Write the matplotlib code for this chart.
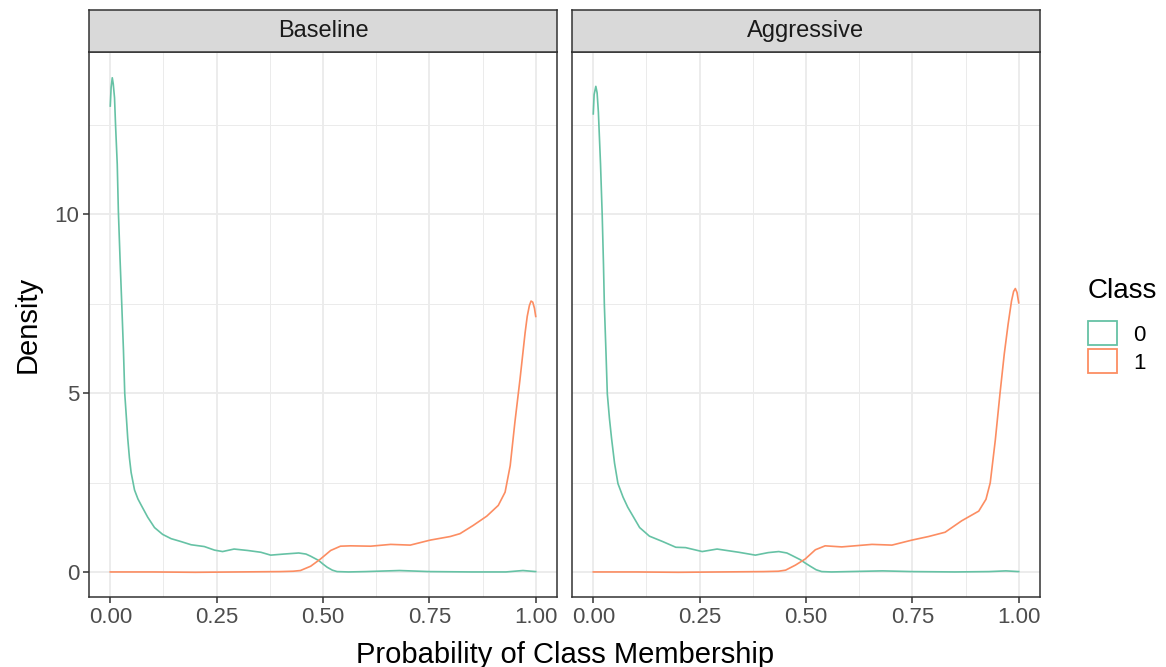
import matplotlib
matplotlib.use("Agg")
import matplotlib.pyplot as plt
from matplotlib.patches import Patch

plt.rcParams['font.family'] = ['Liberation Sans', 'DejaVu Sans']

panels = ["Baseline", "Aggressive"]
classes = ["0", "1"]
colors = ["#66C2A5", "#FC8D62"]

# baseline, class 0
base0_x = [0.000, 0.002, 0.0047, 0.007, 0.010, 0.0124, 0.0164, 0.019, 0.023, 0.027, 0.031,
           0.034, 0.038, 0.041, 0.045, 0.049, 0.057, 0.065, 0.073,
           0.088, 0.104, 0.123, 0.143, 0.166, 0.190, 0.221, 0.245, 0.264, 0.291, 0.323,
           0.354, 0.377, 0.408, 0.443, 0.460, 0.471, 0.490, 0.500, 0.510, 0.522, 0.533,
           0.560, 0.600, 0.680, 0.750, 0.850, 0.930, 0.970, 1.000]
base0_y = [13.03, 13.55, 13.82, 13.65, 13.26, 12.50, 11.40, 10.10, 8.75, 7.49, 6.20,
           5.00, 4.30, 3.75, 3.20, 2.79, 2.30, 2.05, 1.87,
           1.54, 1.25, 1.06, 0.94, 0.86, 0.77, 0.72, 0.62, 0.58, 0.65, 0.61,
           0.56, 0.48, 0.51, 0.54, 0.51, 0.45, 0.33, 0.23, 0.14, 0.06, 0.02,
           0.01, 0.02, 0.05, 0.02, 0.01, 0.01, 0.05, 0.02]
# baseline, class 1
base1_x = [0.000, 0.100, 0.200, 0.300, 0.400, 0.430, 0.447, 0.471, 0.494, 0.518, 0.541, 0.565,
           0.612, 0.659, 0.705, 0.752, 0.799, 0.822, 0.853, 0.885, 0.912, 0.928, 0.940,
           0.951, 0.963, 0.975, 0.980, 0.985, 0.989, 0.993, 0.997, 1.000]
base1_y = [0.01, 0.01, 0.00, 0.01, 0.02, 0.03, 0.05, 0.17, 0.37, 0.61, 0.73, 0.74,
           0.73, 0.78, 0.76, 0.90, 1.00, 1.08, 1.31, 1.57, 1.87, 2.24, 2.98,
           4.19, 5.39, 6.69, 7.15, 7.45, 7.58, 7.55, 7.38, 7.15]
# aggressive, class 0
aggr0_x = [0.000, 0.002, 0.006, 0.009, 0.012, 0.017, 0.021, 0.024, 0.026, 0.030, 0.033,
           0.038, 0.043, 0.050, 0.058, 0.070, 0.081, 0.109,
           0.132, 0.163, 0.194, 0.217, 0.256, 0.291, 0.342, 0.381, 0.411, 0.436, 0.455,
           0.467, 0.487, 0.498, 0.510, 0.524, 0.537, 0.560, 0.600, 0.680, 0.750, 0.850,
           0.930, 0.970, 1.000]
aggr0_y = [12.81, 13.35, 13.58, 13.40, 12.86, 11.42, 9.98, 8.60, 7.49, 6.10, 4.99,
           4.30, 3.74, 3.05, 2.48, 2.10, 1.82, 1.25,
           1.01, 0.86, 0.70, 0.69, 0.58, 0.65, 0.56, 0.48, 0.55, 0.58, 0.54,
           0.47, 0.35, 0.26, 0.17, 0.07, 0.02, 0.01, 0.02, 0.04, 0.02, 0.01,
           0.02, 0.04, 0.02]
# aggressive, class 1
aggr1_x = [0.000, 0.100, 0.200, 0.300, 0.400, 0.435, 0.452, 0.475, 0.498, 0.522, 0.545, 0.584,
           0.655, 0.702, 0.749, 0.788, 0.827, 0.866, 0.906, 0.923, 0.933, 0.945, 0.956,
           0.966, 0.975, 0.983, 0.988, 0.992, 0.996, 1.000]
aggr1_y = [0.01, 0.01, 0.00, 0.01, 0.02, 0.03, 0.06, 0.20, 0.37, 0.63, 0.74, 0.71,
           0.78, 0.76, 0.90, 1.00, 1.12, 1.44, 1.71, 2.04, 2.50, 3.70, 5.00,
           6.10, 6.93, 7.58, 7.85, 7.93, 7.82, 7.53]

curves = [[(base0_x, base0_y), (base1_x, base1_y)],
          [(aggr0_x, aggr0_y), (aggr1_x, aggr1_y)]]

xticks = [0, 0.25, 0.5, 0.75, 1.0]
xticklabels = ["0.00", "0.25", "0.50", "0.75", "1.00"]
yticks = [0, 5, 10]

W, H = 1166, 667
fig = plt.figure(figsize=(W / 100, H / 100), dpi=100)

ax_left = [89, 572]
ax_w = 468
ax_top, ax_bot = 52, 597
strip_top = 10

for i, name in enumerate(panels):
    x0 = ax_left[i] / W
    ax = fig.add_axes([x0, 1 - ax_bot / H, ax_w / W, (ax_bot - ax_top) / H])
    for j, (xs, ys) in enumerate(curves[i]):
        ax.plot(xs, ys, color=colors[j], lw=1.2, zorder=3, solid_joinstyle="round")
    ax.set_xlim(-0.05, 1.05)
    ax.set_ylim(-0.69, 14.54)
    ax.set_xticks(xticks)
    ax.set_xticklabels(xticklabels)
    ax.set_xticks([0.125, 0.375, 0.625, 0.875], minor=True)
    ax.set_yticks(yticks)
    ax.set_yticks([2.5, 7.5, 12.5], minor=True)
    ax.grid(which="major", color="#EBEBEB", lw=1.3, zorder=0)
    ax.grid(which="minor", color="#EBEBEB", lw=0.7, zorder=0)
    ax.set_axisbelow(True)
    ax.tick_params(which="major", direction="out", length=4, width=1.1,
                   color="#333333", labelcolor="#4D4D4D", labelsize=16, pad=3)
    ax.tick_params(which="minor", length=0)
    for sp in ax.spines.values():
        sp.set_color("#333333")
        sp.set_linewidth(1.1)
    if i == 1:
        ax.tick_params(axis="y", which="major", length=0, labelleft=False)
    else:
        ax.set_ylabel("Density", fontsize=21, labelpad=9)

    # facet strip
    sax = fig.add_axes([x0, 1 - ax_top / H, ax_w / W, (ax_top - strip_top) / H])
    sax.set_xticks([])
    sax.set_yticks([])
    sax.set_facecolor("#D9D9D9")
    for sp in sax.spines.values():
        sp.set_color("#333333")
        sp.set_linewidth(1.1)
    sax.text(0.5, 0.5, name, ha="center", va="center", fontsize=17,
             color="#1A1A1A", transform=sax.transAxes)

fig.text((89 + 1041) / 2 / W, 1 - 655 / H, "Probability of Class Membership",
         ha="center", va="center", fontsize=21)

handles = [Patch(facecolor="white", edgecolor=c, lw=1.3) for c in colors]
leg = fig.legend(handles, classes, title="Class", loc="center left",
                 bbox_to_anchor=(1088 / W, 1 - 326 / H), frameon=False,
                 fontsize=16, title_fontsize=20, handlelength=1.3,
                 handleheight=1.3, labelspacing=0.15, handletextpad=0.75,
                 borderpad=0.0, borderaxespad=0.0)
leg._legend_box.align = "left"
leg._legend_box.sep = 12

fig.savefig("out.png", dpi=100)
